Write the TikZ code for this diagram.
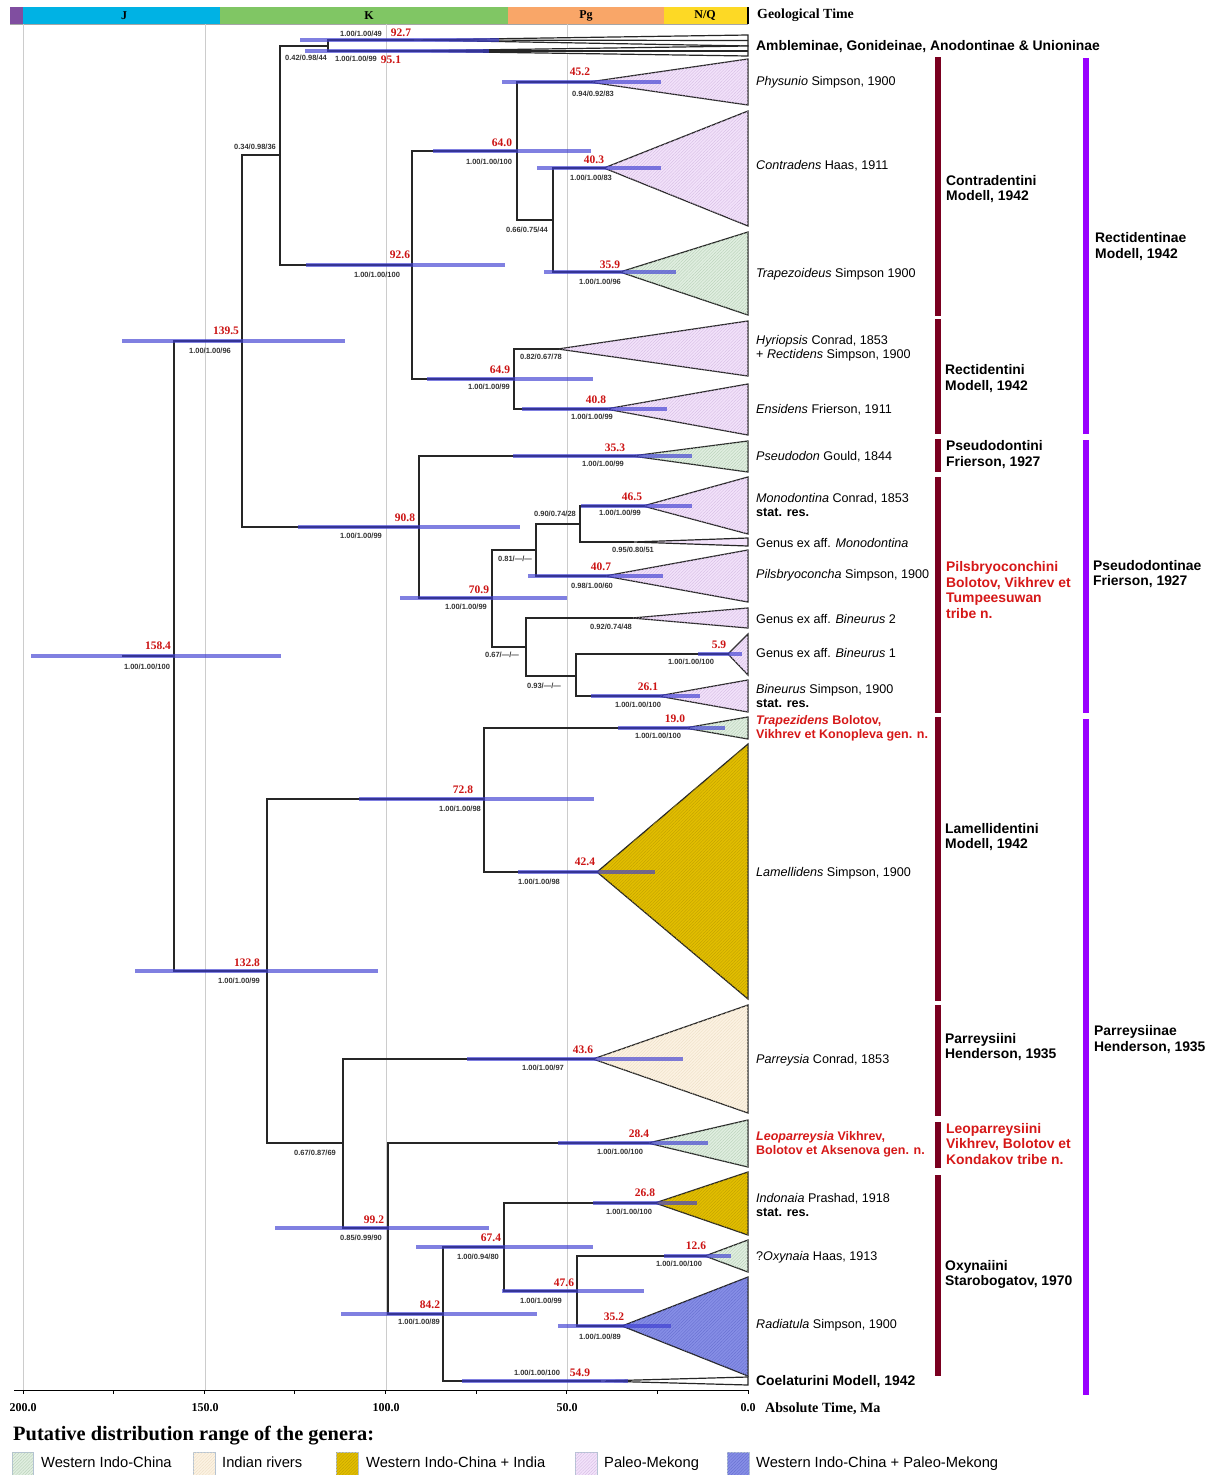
\documentclass[tikz,border=0pt]{standalone}
\usepackage{fontspec}
\setmainfont{Liberation Serif}
\setsansfont{Liberation Sans}
\usetikzlibrary{calc,patterns.meta}
\definecolor{hpdc}{RGB}{60,60,210}
\definecolor{agered}{RGB}{204,20,20}
\definecolor{newred}{RGB}{214,24,24}
\definecolor{tribec}{RGB}{122,0,32}
\definecolor{subfc}{RGB}{153,0,255}
\definecolor{cJ}{RGB}{0,178,228}
\definecolor{cK}{RGB}{128,198,100}
\definecolor{cPg}{RGB}{249,166,104}
\definecolor{cNQ}{RGB}{253,217,37}
\definecolor{cPre}{RGB}{128,78,160}
\definecolor{fGreen}{RGB}{224,238,224}
\definecolor{fCream}{RGB}{252,242,226}
\definecolor{fGold}{RGB}{226,190,0}
\definecolor{fLav}{RGB}{242,226,250}
\definecolor{fBlue}{RGB}{134,142,230}
\definecolor{hGreen}{RGB}{180,206,180}
\definecolor{hCream}{RGB}{236,222,196}
\definecolor{hGold}{RGB}{190,158,0}
\definecolor{hLav}{RGB}{212,186,226}
\definecolor{hBlue}{RGB}{100,108,206}
\definecolor{legbd}{RGB}{180,195,212}
\newcommand\hpdbar[3]{\draw[hpd] let \p1=(#1) in (#2pt,\y1) -- (#3pt,\y1);}
\begin{document}
\begin{tikzpicture}[x=1pt,y=-1pt,
  branch/.style={line width=1.4pt, draw=black!85},
  clade/.style={draw=black!85, line width=1.2pt, line join=miter},
  hatchfill/.style n args={2}{fill=#1, postaction={pattern={Lines[angle=45,distance=2.2pt,line width=0.35pt]}, pattern color=#2}},
  cgreen/.style={hatchfill={fGreen}{hGreen}},
  ccream/.style={hatchfill={fCream}{hCream}},
  cgold/.style={hatchfill={fGold}{hGold}},
  clav/.style={hatchfill={fLav}{hLav}},
  cblue/.style={hatchfill={fBlue}{hBlue}},
  hpd/.style={draw=hpdc, draw opacity=0.65, line width=4pt, line cap=butt},
  age/.style={font=\fontsize{11.5}{12}\selectfont\bfseries, text=agered, inner sep=0},
  supp/.style={font=\sffamily\bfseries\fontsize{7.5}{8}\selectfont, text=black!80, inner sep=0},
  taxon/.style={font=\sffamily\fontsize{12.6}{14.2}\selectfont, anchor=west, align=left, inner sep=0},
  boldtaxon/.style={font=\sffamily\bfseries\fontsize{13.9}{14.2}\selectfont, anchor=west, align=left, inner sep=0},
  newtaxon/.style={font=\sffamily\bfseries\fontsize{12.5}{14.2}\selectfont, text=newred, anchor=west, align=left, inner sep=0},
  tribe/.style={font=\sffamily\bfseries\fontsize{13.9}{15.6}\selectfont, anchor=west, align=left, inner sep=0},
  period/.style={font=\bfseries\fontsize{12}{12}\selectfont, inner sep=0},
  axlab/.style={font=\bfseries\fontsize{12}{12}\selectfont, inner sep=0},
  legtxt/.style={font=\sffamily\fontsize{14.7}{15}\selectfont, anchor=west, inner sep=0, text height=10.5pt, text depth=3pt},
  legbox/.style={draw=legbd, line width=0.8pt},
  tribebar/.style={fill=tribec},
  subfbar/.style={fill=subfc}
]
\useasboundingbox (0,0) rectangle (1221,1475);
\fill[white] (0,0) rectangle (1221,1475);

% ---------- geological time bar
\fill[cPre] (10,7) rectangle (23,24);
\fill[cJ] (23,7) rectangle (220,24);
\fill[cK] (220,7) rectangle (508,24);
\fill[cPg] (508,7) rectangle (664,24);
\fill[cNQ] (664,7) rectangle (748,24);
\draw[black!35, line width=0.6pt] (10,24) -- (748,24);
\draw[line width=1.6pt] (748,7) -- (748,24);
\node[period] (pJ) at (124,15.5) {J};
\node[period] (pK) at (369,15.5) {K};
\node[period] (pPg) at (586,15.5) {Pg};
\node[period] (pNQ) at (705,15.5) {N/Q};
\node[font=\bfseries\fontsize{13.9}{14}\selectfont, anchor=west, inner sep=0] (geo) at (757,15.5) {Geological Time};

% ---------- grid lines
\foreach \gx in {23,205,386,567} \draw[black!20, line width=0.8pt] (\gx,24) -- (\gx,1390);

% ---------- tree coordinates
\coordinate (stem) at (122,656);
\coordinate (nR) at (174,656);
\coordinate (nA) at (242,341);
\coordinate (nB) at (280,155);
\coordinate (nOG) at (328,46);
\coordinate (nO1) at (413,40);
\coordinate (nO2) at (404,51);
\coordinate (nC) at (412,265);
\coordinate (nD) at (517,151);
\coordinate (tPhy) at (589,82);
\coordinate (nF) at (553,220);
\coordinate (tCon) at (604,168);
\coordinate (tTrap) at (620,272);
\coordinate (nE) at (514,379);
\coordinate (tHyr) at (558,349);
\coordinate (tEns) at (606,409);
\coordinate (nPS) at (419,527);
\coordinate (tPse) at (632,456);
\coordinate (nH) at (492,598);
\coordinate (nI) at (536,550);
\coordinate (nJ) at (580,524);
\coordinate (tMon) at (643,506);
\coordinate (tGMon) at (633,542);
\coordinate (tPil) at (605,576);
\coordinate (nK) at (526,647);
\coordinate (tGB2) at (632,618);
\coordinate (nL) at (576,676);
\coordinate (tGB1) at (728,654);
\coordinate (tBin) at (658,696);
\coordinate (nM) at (267,971);
\coordinate (nN) at (484,799);
\coordinate (tTrz) at (685,728);
\coordinate (tLam) at (597,872);
\coordinate (nO) at (343,1143);
\coordinate (tPar) at (593,1059);
\coordinate (nP) at (388,1228);
\coordinate (tLeo) at (648,1143);
\coordinate (nQ) at (443,1314);
\coordinate (nS) at (504,1247);
\coordinate (tInd) at (655,1203);
\coordinate (nT) at (577,1291);
\coordinate (tOxy) at (705,1256);
\coordinate (tRad) at (622,1326);
\coordinate (tCoe) at (600,1381);

% ---------- collapsed clades
\draw[clade, fill=white] (nO1) -- (748,35) -- (748,46) -- cycle;
\draw[clade] (nO1) -- (748,40.5);
\draw[clade, fill=white] (nO2) -- (748,46) -- (748,56) -- cycle;
\draw[clade] (nO2) -- (748,51);
\draw[clade, clav] (tPhy) -- (748,59) -- (748,105) -- cycle;
\draw[clade, clav] (tCon) -- (748,111) -- (748,226) -- cycle;
\draw[clade, cgreen] (tTrap) -- (748,232) -- (748,315) -- cycle;
\draw[clade, clav] (tHyr) -- (748,321) -- (748,376) -- cycle;
\draw[clade, clav] (tEns) -- (748,384) -- (748,435) -- cycle;
\draw[clade, cgreen] (tPse) -- (748,441) -- (748,472) -- cycle;
\draw[clade, clav] (tMon) -- (748,477) -- (748,534) -- cycle;
\draw[clade, fill=fLav] (tGMon) -- (748,538) -- (748,546) -- cycle;
\draw[clade, clav] (tPil) -- (748,550) -- (748,602) -- cycle;
\draw[clade, clav] (tGB2) -- (748,608) -- (748,628) -- cycle;
\draw[clade, clav] (tGB1) -- (748,634) -- (748,675) -- cycle;
\draw[clade, clav] (tBin) -- (748,680) -- (748,712) -- cycle;
\draw[clade, cgreen] (tTrz) -- (748,717) -- (748,739) -- cycle;
\draw[clade, cgold] (tLam) -- (748,744) -- (748,999) -- cycle;
\draw[clade, ccream] (tPar) -- (748,1005) -- (748,1113) -- cycle;
\draw[clade, cgreen] (tLeo) -- (748,1120) -- (748,1167) -- cycle;
\draw[clade, cgold] (tInd) -- (748,1172) -- (748,1235) -- cycle;
\draw[clade, cgreen] (tOxy) -- (748,1240) -- (748,1272) -- cycle;
\draw[clade, cblue] (tRad) -- (748,1277) -- (748,1376) -- cycle;
\draw[clade, fill=white] (tCoe) -- (748,1377) -- (748,1385) -- cycle;

% ---------- branches
\draw[branch] (stem) -- (nR);
\foreach \p/\c in {nR/nA, nR/nM, nA/nB, nA/nPS, nB/nOG, nB/nC, nOG/nO1, nOG/nO2,
  nC/nD, nC/nE, nD/tPhy, nD/nF, nF/tCon, nF/tTrap, nE/tHyr, nE/tEns,
  nPS/tPse, nPS/nH, nH/nI, nH/nK, nI/nJ, nI/tPil, nJ/tMon, nJ/tGMon,
  nK/tGB2, nK/nL, nL/tGB1, nL/tBin, nM/nN, nM/nO, nN/tTrz, nN/tLam,
  nO/tPar, nO/nP, nP/tLeo, nP/nQ, nQ/nS, nQ/tCoe, nS/tInd, nS/nT, nT/tOxy, nT/tRad}
  \draw[branch, line cap=rect] (\p) |- (\c);

% ---------- HPD bars
\hpdbar{nO1}{300}{499}
\hpdbar{nO2}{305}{489}
\hpdbar{nA}{122}{345}
\hpdbar{nR}{31}{281}
\hpdbar{nC}{306}{505}
\hpdbar{nD}{433}{591}
\hpdbar{tPhy}{502}{661}
\hpdbar{tCon}{537}{661}
\hpdbar{tTrap}{544}{676}
\hpdbar{nE}{427}{593}
\hpdbar{tEns}{522}{667}
\hpdbar{nPS}{298}{520}
\hpdbar{tPse}{513}{692}
\hpdbar{tMon}{581}{692}
\hpdbar{nH}{400}{567}
\hpdbar{tPil}{528}{663}
\hpdbar{tGB1}{698}{742}
\hpdbar{tBin}{591}{700}
\hpdbar{tTrz}{618}{725}
\hpdbar{nN}{359}{594}
\hpdbar{tLam}{518}{655}
\hpdbar{nM}{135}{378}
\hpdbar{tPar}{467}{683}
\hpdbar{nP}{275}{489}
\hpdbar{tLeo}{558}{708}
\hpdbar{nQ}{341}{537}
\hpdbar{nS}{416}{593}
\hpdbar{tInd}{593}{697}
\hpdbar{nT}{502}{644}
\hpdbar{tOxy}{664}{731}
\hpdbar{tRad}{558}{671}
\hpdbar{tCoe}{462}{628}

% ---------- node ages and supports
\node[age] (a927) at (401,33) {92.7};
\node[supp] (s927) at (361,34) {1.00/1.00/49};
\node[age] (a951) at (391,60) {95.1};
\node[supp] (s951) at (356,59) {1.00/1.00/99};
\node[supp] (sOG) at (306,58) {0.42/0.98/44};
\node[supp] (sB) at (255,147) {0.34/0.98/36};
\node[age] (a1395) at (226,331) {139.5};
\node[supp] (s1395) at (210,351) {1.00/1.00/96};
\node[age] (a1584) at (158,646) {158.4};
\node[supp] (s1584) at (147,667) {1.00/1.00/100};
\node[age] (a926) at (400,255) {92.6};
\node[supp] (s926) at (377,275) {1.00/1.00/100};
\node[age] (a640) at (502,143) {64.0};
\node[supp] (s640) at (489,162) {1.00/1.00/100};
\node[age] (a452) at (580,72) {45.2};
\node[supp] (s452) at (593,94) {0.94/0.92/83};
\node[age] (a403) at (594,160) {40.3};
\node[supp] (s403) at (591,178) {1.00/1.00/83};
\node[supp] (sF) at (527,230) {0.66/0.75/44};
\node[age] (a359) at (610,265) {35.9};
\node[supp] (s359) at (600,282) {1.00/1.00/96};
\node[supp] (sHyr) at (541,357) {0.82/0.67/78};
\node[age] (a649) at (500,370) {64.9};
\node[supp] (s649) at (489,387) {1.00/1.00/99};
\node[age] (a408) at (596,400) {40.8};
\node[supp] (s408) at (592,417) {1.00/1.00/99};
\node[age] (a908) at (405,518) {90.8};
\node[supp] (s908) at (361,536) {1.00/1.00/99};
\node[age] (a353) at (615,448) {35.3};
\node[supp] (s353) at (603,464) {1.00/1.00/99};
\node[supp] (sJ) at (555,514) {0.90/0.74/28};
\node[age] (a465) at (632,497) {46.5};
\node[supp] (s465) at (620,513) {1.00/1.00/99};
\node[supp] (sGMon) at (633,550) {0.95/0.80/51};
\node[supp] (sI) at (515,559) {0.81/---/---};
\node[age] (a709) at (479,590) {70.9};
\node[supp] (s709) at (466,607) {1.00/1.00/99};
\node[age] (a407) at (601,567) {40.7};
\node[supp] (s407) at (592,586) {0.98/1.00/60};
\node[supp] (sGB2) at (611,627) {0.92/0.74/48};
\node[supp] (sK) at (502,655) {0.67/---/---};
\node[age] (a59) at (719,645) {5.9};
\node[supp] (s59) at (691,662) {1.00/1.00/100};
\node[supp] (sL) at (544,686) {0.93/---/---};
\node[age] (a261) at (648,687) {26.1};
\node[supp] (s261) at (638,705) {1.00/1.00/100};
\node[age] (a190) at (675,719) {19.0};
\node[supp] (s190) at (658,736) {1.00/1.00/100};
\node[age] (a728) at (463,790) {72.8};
\node[supp] (s728) at (460,809) {1.00/1.00/98};
\node[age] (a424) at (585,862) {42.4};
\node[supp] (s424) at (539,882) {1.00/1.00/98};
\node[age] (a1328) at (247,963) {132.8};
\node[supp] (s1328) at (239,981) {1.00/1.00/99};
\node[age] (a436) at (583,1050) {43.6};
\node[supp] (s436) at (543,1068) {1.00/1.00/97};
\node[supp] (sO) at (315,1153) {0.67/0.87/69};
\node[age] (a284) at (639,1134) {28.4};
\node[supp] (s284) at (620,1152) {1.00/1.00/100};
\node[age] (a992) at (374,1220) {99.2};
\node[supp] (s992) at (361,1238) {0.85/0.99/90};
\node[age] (a268) at (645,1193) {26.8};
\node[supp] (s268) at (629,1212) {1.00/1.00/100};
\node[age] (a674) at (491,1238) {67.4};
\node[supp] (s674) at (478,1257) {1.00/0.94/80};
\node[age] (a126) at (696,1246) {12.6};
\node[supp] (s126) at (679,1264) {1.00/1.00/100};
\node[age] (a476) at (564,1283) {47.6};
\node[supp] (s476) at (541,1301) {1.00/1.00/99};
\node[age] (a842) at (430,1305) {84.2};
\node[supp] (s842) at (419,1322) {1.00/1.00/89};
\node[age] (a352) at (614,1317) {35.2};
\node[supp] (s352) at (600,1337) {1.00/1.00/89};
\node[age] (a549) at (580,1373) {54.9};
\node[supp] (s549) at (537,1373) {1.00/1.00/100};

% ---------- taxon labels
\node[boldtaxon] (lOG) at (756,46.5) {Ambleminae, Gonideinae, Anodontinae \& Unioninae};
\node[taxon] (lPhy) at (756,82.5) {\textit{Physunio} Simpson, 1900};
\node[taxon] (lCon) at (756,165.5) {\textit{Contradens} Haas, 1911};
\node[taxon] (lTrap) at (756,274.5) {\textit{Trapezoideus} Simpson 1900};
\node[taxon] (lHyr) at (756,348.5) {\textit{Hyriopsis} Conrad, 1853\\+ \textit{Rectidens} Simpson, 1900};
\node[taxon] (lEns) at (756,409.5) {\textit{Ensidens} Frierson, 1911};
\node[taxon] (lPse) at (756,456.5) {\textit{Pseudodon} Gould, 1844};
\node[taxon] (lMon) at (756,505) {\textit{Monodontina} Conrad, 1853\\\textbf{stat. res.}};
\node[taxon] (lGMon) at (756,542.5) {Genus ex aff. \textit{Monodontina}};
\node[taxon] (lPil) at (756,575.5) {\textit{Pilsbryoconcha} Simpson, 1900};
\node[taxon] (lGB2) at (756,618.5) {Genus ex aff. \textit{Bineurus} 2};
\node[taxon] (lGB1) at (756,652.5) {Genus ex aff. \textit{Bineurus} 1};
\node[taxon] (lBin) at (756,696) {\textit{Bineurus} Simpson, 1900\\\textbf{stat. res.}};
\node[newtaxon] (lTrz) at (756,728.5) {\textit{Trapezidens} Bolotov,\\Vikhrev et Konopleva gen. n.};
\node[taxon] (lLam) at (756,873.5) {\textit{Lamellidens} Simpson, 1900};
\node[taxon] (lPar) at (756,1060.5) {\textit{Parreysia} Conrad, 1853};
\node[newtaxon] (lLeo) at (756,1144) {\textit{Leoparreysia} Vikhrev,\\Bolotov et Aksenova gen. n.};
\node[taxon] (lInd) at (756,1205) {\textit{Indonaia} Prashad, 1918\\\textbf{stat. res.}};
\node[taxon] (lOxy) at (756,1257) {?\textit{Oxynaia} Haas, 1913};
\node[taxon] (lRad) at (756,1325.5) {\textit{Radiatula} Simpson, 1900};
\node[boldtaxon] (lCoe) at (756,1382) {Coelaturini Modell, 1942};

% ---------- tribe bars and labels
\fill[tribebar] (935,57) rectangle (941,316);
\fill[tribebar] (935,319) rectangle (941,434);
\fill[tribebar] (935,439) rectangle (941,472);
\fill[tribebar] (935,477) rectangle (941,713);
\fill[tribebar] (935,717) rectangle (941,1001);
\fill[tribebar] (935,1005) rectangle (941,1116);
\fill[tribebar] (935,1122) rectangle (941,1168);
\fill[tribebar] (935,1175) rectangle (941,1376);
\node[tribe] (tr1) at (946,189) {Contradentini\\Modell, 1942};
\node[tribe] (tr2) at (945,378.5) {Rectidentini\\Modell, 1942};
\node[tribe] (tr3) at (946,454.5) {Pseudodontini\\Frierson, 1927};
\node[tribe, text=newred] (tr4) at (946,590) {Pilsbryoconchini\\Bolotov, Vikhrev et\\Tumpeesuwan\\tribe n.};
\node[tribe] (tr5) at (945,837) {Lamellidentini\\Modell, 1942};
\node[tribe] (tr6) at (945,1047) {Parreysiini\\Henderson, 1935};
\node[tribe, text=newred] (tr7) at (946,1144) {Leoparreysiini\\Vikhrev, Bolotov et\\Kondakov tribe n.};
\node[tribe] (tr8) at (945,1274.5) {Oxynaiini\\Starobogatov, 1970};

% ---------- subfamily bars and labels
\fill[subfbar] (1083,58) rectangle (1089,434);
\fill[subfbar] (1083,440) rectangle (1089,713);
\fill[subfbar] (1083,719) rectangle (1089,1395);
\node[tribe] (sf1) at (1095,246.5) {Rectidentinae\\Modell, 1942};
\node[tribe] (sf2) at (1093,574) {Pseudodontinae\\Frierson, 1927};
\node[tribe] (sf3) at (1094,1039.5) {Parreysiinae\\Henderson, 1935};

% ---------- time axis
\draw[line width=1pt] (14,1390) -- (748,1390);
\foreach \k in {0,...,8} \draw[line width=0.8pt] ({23+90.625*\k},1390) -- ({23+90.625*\k},1394);
\node[axlab] (x200) at (23,1408) {200.0};
\node[axlab] (x150) at (205,1408) {150.0};
\node[axlab] (x100) at (386,1408) {100.0};
\node[axlab] (x50) at (567,1408) {50.0};
\node[axlab] (x0) at (748,1408) {0.0};
\node[font=\bfseries\fontsize{14.1}{15}\selectfont, anchor=west, inner sep=0] (axt) at (765,1409) {Absolute Time, Ma};

% ---------- legend
\node[font=\bfseries\fontsize{20.4}{21}\selectfont, anchor=west, inner sep=0] (legt) at (13,1436) {Putative distribution range of the genera:};
\draw[legbox, cgreen] (12,1452) rectangle (33,1475);
\node[legtxt] (lg1) at (41,1464) {Western Indo-China};
\draw[legbox, ccream] (193,1452) rectangle (215,1475);
\node[legtxt] (lg2) at (222,1464) {Indian rivers};
\draw[legbox, cgold] (336,1452) rectangle (358,1475);
\node[legtxt] (lg3) at (366,1464) {Western Indo-China + India};
\draw[legbox, clav] (575,1452) rectangle (597,1475);
\node[legtxt] (lg4) at (604,1464) {Paleo-Mekong};
\draw[legbox, cblue] (727,1452) rectangle (749,1475);
\node[legtxt] (lg5) at (756,1464) {Western Indo-China + Paleo-Mekong};
\end{tikzpicture}
\end{document}
